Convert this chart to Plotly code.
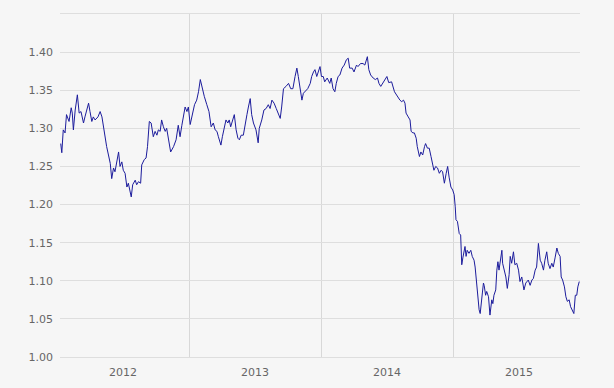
import plotly.graph_objects as go

dates = [
    "2012-01-12","2012-01-15","2012-01-19","2012-01-24","2012-01-28","2012-02-04","2012-02-10","2012-02-13",
    "2012-02-16","2012-02-21","2012-02-27","2012-03-03","2012-03-08","2012-03-15","2012-03-19","2012-03-29",
    "2012-04-02","2012-04-07","2012-04-11","2012-04-16","2012-04-24","2012-04-30","2012-05-05","2012-05-09",
    "2012-05-14","2012-05-18","2012-05-23","2012-05-28","2012-06-01","2012-06-06","2012-06-10","2012-06-15",
    "2012-06-20","2012-06-24","2012-06-29","2012-07-03","2012-07-08","2012-07-13","2012-07-17","2012-07-25",
    "2012-07-29","2012-08-05","2012-08-09","2012-08-14","2012-08-20","2012-08-23","2012-08-30","2012-09-04",
    "2012-09-08","2012-09-13","2012-09-18","2012-09-24","2012-09-29","2012-10-04","2012-10-08","2012-10-13",
    "2012-10-17","2012-10-22","2012-10-27","2012-10-31","2012-11-05","2012-11-11","2012-11-19","2012-11-26",
    "2012-12-02","2012-12-07","2012-12-12","2012-12-16","2012-12-21","2012-12-26","2012-12-30","2013-01-04",
    "2013-01-10","2013-01-16","2013-01-22","2013-01-27","2013-02-01","2013-02-07","2013-02-12","2013-02-19",
    "2013-02-25","2013-03-03","2013-03-09","2013-03-14","2013-03-19","2013-03-23","2013-03-30","2013-04-03",
    "2013-04-09","2013-04-13","2013-04-18","2013-04-22","2013-04-26","2013-05-01","2013-05-06","2013-05-11",
    "2013-05-16","2013-05-20","2013-05-25","2013-05-31","2013-06-05","2013-06-10","2013-06-14","2013-06-19",
    "2013-06-23","2013-06-28","2013-07-05","2013-07-11","2013-07-14","2013-07-21","2013-07-27","2013-08-02",
    "2013-08-08","2013-08-13","2013-08-18","2013-08-24","2013-08-30","2013-09-05","2013-09-10","2013-09-14",
    "2013-09-19","2013-09-26","2013-10-03","2013-10-09","2013-10-15","2013-10-21","2013-10-26","2013-10-30",
    "2013-11-04","2013-11-09","2013-11-13","2013-11-20","2013-11-25","2013-12-02","2013-12-06","2013-12-11",
    "2013-12-15","2013-12-20","2013-12-25","2013-12-29","2014-01-02","2014-01-07","2014-01-11","2014-01-18",
    "2014-01-25","2014-01-29","2014-02-03","2014-02-08","2014-02-12","2014-02-17","2014-02-22","2014-02-28",
    "2014-03-06","2014-03-12","2014-03-17","2014-03-21","2014-03-28","2014-04-02","2014-04-09","2014-04-13",
    "2014-04-20","2014-04-27","2014-05-02","2014-05-06","2014-05-09","2014-05-13","2014-05-18","2014-05-25",
    "2014-05-31","2014-06-06","2014-06-10","2014-06-15","2014-06-21","2014-06-27","2014-07-02","2014-07-07",
    "2014-07-11","2014-07-15","2014-07-23","2014-07-29","2014-08-03","2014-08-07","2014-08-12","2014-08-17",
    "2014-08-21","2014-08-24","2014-08-30","2014-09-04","2014-09-07","2014-09-12","2014-09-16","2014-09-21",
    "2014-09-24","2014-09-30","2014-10-04","2014-10-09","2014-10-14","2014-10-17","2014-10-22","2014-10-27",
    "2014-11-01","2014-11-05","2014-11-09","2014-11-14","2014-11-19","2014-11-24","2014-11-29","2014-12-03",
    "2014-12-08","2014-12-13","2014-12-17","2014-12-21","2014-12-26","2014-12-31","2015-01-04","2015-01-07",
    "2015-01-09","2015-01-13","2015-01-16","2015-01-18","2015-01-22","2015-01-25","2015-01-28","2015-01-31",
    "2015-02-03","2015-02-06","2015-02-09","2015-02-14","2015-02-19","2015-02-23","2015-02-28","2015-03-03",
    "2015-03-07","2015-03-10","2015-03-14","2015-03-17","2015-03-19","2015-03-23","2015-03-26","2015-03-28",
    "2015-04-01","2015-04-04","2015-04-09","2015-04-11","2015-04-13","2015-04-18","2015-04-21","2015-04-24",
    "2015-04-29","2015-05-02","2015-05-05","2015-05-08","2015-05-13","2015-05-16","2015-05-18","2015-05-22",
    "2015-05-27","2015-05-31","2015-06-05","2015-06-08","2015-06-12","2015-06-17","2015-06-21","2015-06-26",
    "2015-07-01","2015-07-05","2015-07-10","2015-07-16","2015-07-21","2015-07-28","2015-08-02","2015-08-07",
    "2015-08-11","2015-08-16","2015-08-20","2015-08-25","2015-08-30","2015-09-03","2015-09-08","2015-09-12",
    "2015-09-17","2015-09-21","2015-09-26","2015-10-01","2015-10-05","2015-10-10","2015-10-15","2015-10-19",
    "2015-10-24","2015-10-27","2015-10-31","2015-11-05","2015-11-09","2015-11-13","2015-11-18","2015-11-22",
    "2015-11-27","2015-12-01","2015-12-05","2015-12-09","2015-12-12","2015-12-16",
]

rates = [
    1.280,1.268,1.298,1.294,1.318,1.309,1.327,1.320,
    1.298,1.324,1.344,1.320,1.322,1.307,1.315,1.333,
    1.322,1.309,1.315,1.311,1.315,1.322,1.315,1.302,
    1.289,1.276,1.265,1.254,1.234,1.248,1.243,1.256,
    1.269,1.250,1.256,1.245,1.241,1.223,1.228,1.210,
    1.226,1.232,1.226,1.230,1.228,1.252,1.259,1.261,
    1.276,1.309,1.307,1.289,1.296,1.291,1.298,1.296,
    1.311,1.302,1.296,1.300,1.283,1.269,1.276,1.285,
    1.304,1.289,1.304,1.313,1.328,1.322,1.328,1.305,
    1.318,1.331,1.337,1.348,1.364,1.350,1.342,1.331,
    1.322,1.302,1.307,1.298,1.296,1.289,1.278,1.289,
    1.300,1.311,1.307,1.311,1.302,1.311,1.318,1.298,
    1.287,1.285,1.291,1.291,1.307,1.318,1.328,1.339,
    1.318,1.307,1.298,1.281,1.300,1.311,1.324,1.326,
    1.331,1.326,1.337,1.333,1.326,1.320,1.313,1.328,
    1.352,1.355,1.359,1.352,1.352,1.368,1.379,1.368,
    1.350,1.337,1.346,1.350,1.352,1.359,1.368,1.374,
    1.377,1.368,1.377,1.381,1.368,1.368,1.361,1.366,
    1.359,1.366,1.352,1.348,1.359,1.368,1.370,1.379,
    1.383,1.390,1.392,1.379,1.379,1.374,1.383,1.381,
    1.385,1.385,1.383,1.390,1.394,1.377,1.370,1.366,
    1.364,1.366,1.359,1.355,1.359,1.364,1.368,1.360,
    1.361,1.361,1.348,1.344,1.339,1.337,1.335,1.337,
    1.333,1.320,1.315,1.311,1.296,1.294,1.294,1.287,
    1.276,1.263,1.269,1.265,1.276,1.280,1.274,1.274,
    1.263,1.254,1.245,1.250,1.248,1.241,1.245,1.243,
    1.228,1.241,1.250,1.236,1.223,1.219,1.213,1.197,
    1.180,1.178,1.169,1.162,1.160,1.121,1.130,1.138,
    1.145,1.132,1.140,1.136,1.140,1.132,1.127,1.118,
    1.097,1.079,1.062,1.057,1.064,1.084,1.097,1.094,
    1.081,1.086,1.079,1.057,1.055,1.075,1.070,1.081,
    1.088,1.114,1.125,1.114,1.130,1.140,1.123,1.114,
    1.105,1.090,1.108,1.132,1.123,1.138,1.121,1.123,
    1.114,1.099,1.105,1.088,1.097,1.101,1.094,1.101,
    1.103,1.114,1.118,1.149,1.127,1.123,1.114,1.127,
    1.138,1.123,1.116,1.123,1.118,1.130,1.143,1.136,
    1.132,1.105,1.101,1.092,1.079,1.073,1.075,1.066,
    1.062,1.057,1.081,1.081,1.092,1.099,
]

y_ticks = [1.00, 1.05, 1.10, 1.15, 1.20, 1.25, 1.30, 1.35, 1.40, 1.45]
y_labels = ["1.00", "1.05", "1.10", "1.15", "1.20", "1.25", "1.30", "1.35", "1.40", ""]

BG = "#f6f6f6"
GRID = "#dedede"
TICK_FONT = dict(family="DejaVu Sans", size=11, color="#666666")

fig = go.Figure(
    go.Scatter(
        x=dates,
        y=rates,
        mode="lines",
        line=dict(color="#1c1c9c", width=1),
        hoverinfo="x+y",
    )
)

fig.update_layout(
    template="none",
    width=614,
    height=388,
    margin=dict(l=60, r=34, t=14, b=31, pad=0),
    paper_bgcolor=BG,
    plot_bgcolor=BG,
    showlegend=False,
    xaxis=dict(
        type="date",
        range=["2012-01-10", "2015-12-18"],
        tick0="2012-01-01",
        dtick="M12",
        tickformat="%Y",
        ticklabelmode="period",
        showgrid=True,
        gridcolor="#d8d8d8",
        gridwidth=1,
        ticks="",
        showline=True,
        linecolor=GRID,
        linewidth=1,
        mirror=True,
        zeroline=False,
        automargin=False,
        tickfont=TICK_FONT,
        ticklabelstandoff=5,
    ),
    yaxis=dict(
        range=[1.0, 1.45],
        tickvals=y_ticks,
        ticktext=y_labels,
        showgrid=True,
        gridcolor=GRID,
        gridwidth=1,
        ticks="",
        showline=False,
        zeroline=False,
        automargin=False,
        tickfont=TICK_FONT,
        ticklabelstandoff=6,
    ),
)

fig.write_html(
    "out.html",
    config={"displayModeBar": False},
    post_script="document.body.style.margin='0';document.body.style.background='#f6f6f6';",
)
